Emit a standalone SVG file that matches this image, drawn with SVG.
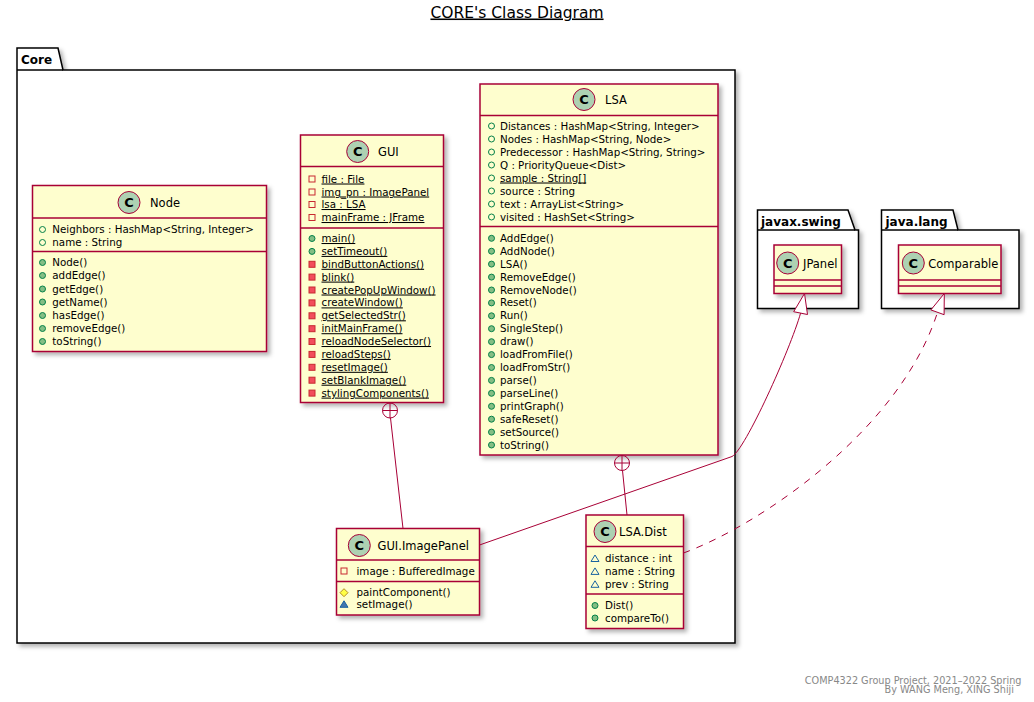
<svg xmlns="http://www.w3.org/2000/svg" xmlns:xlink="http://www.w3.org/1999/xlink" width="1034" height="702" viewBox="0 0 1034 702">
<style>
.cls{fill:#FEFECE;stroke:#A80036;stroke-width:1.5}
.sep{stroke:#A80036;stroke-width:1.5}
.t{font-family:"DejaVu Sans",Verdana,sans-serif;font-size:10.3px;fill:#000}
.n{font-family:"DejaVu Sans",Verdana,sans-serif;font-size:11.5px;fill:#000}
.ci{fill:#ADD1B2;stroke:#A80036;stroke-width:1}
.cl{font-family:"DejaVu Sans",Verdana,sans-serif;font-weight:bold;font-size:13px;fill:#000;text-anchor:middle}
.pkg{fill:#FFFFFF;stroke:#000;stroke-width:1.5}
.pl{fill:none;stroke:#000;stroke-width:1.5}
.pt{font-family:"DejaVu Sans",Verdana,sans-serif;font-weight:bold;font-size:12px;fill:#000}
.u{text-decoration:underline}
.link{fill:none;stroke:#A80036;stroke-width:1}
.ft{font-family:"DejaVu Sans",Verdana,sans-serif;font-size:9.7px;fill:#888888;text-anchor:end}
</style>
<defs>
<filter id="sh" x="-10%" y="-10%" width="130%" height="130%"><feDropShadow dx="3" dy="3" stdDeviation="2" flood-color="#000" flood-opacity="0.3"/></filter>
<g id="pubF"><circle r="3" fill="none" stroke="#038048" stroke-width="1"/></g>
<g id="pubM"><circle r="3" fill="#84BE84" stroke="#038048" stroke-width="1"/></g>
<g id="privF"><rect x="-3" y="-3" width="6" height="6" fill="none" stroke="#C82930" stroke-width="1"/></g>
<g id="privM"><rect x="-3" y="-3" width="6" height="6" fill="#F24D5C" stroke="#C82930" stroke-width="1"/></g>
<g id="protM"><polygon points="0,-4 4,0 0,4 -4,0" fill="#FFFF44" stroke="#B38D22" stroke-width="1"/></g>
<g id="pkgM"><polygon points="0,-3.5 4,3 -4,3" fill="#4177AF" stroke="#1963A0" stroke-width="1"/></g>
<g id="pkgF"><polygon points="0,-3.5 4,3 -4,3" fill="none" stroke="#1963A0" stroke-width="1"/></g>
</defs>

<text x="517" y="17.5" font-family="DejaVu Sans, Verdana, sans-serif" font-size="15.5" text-anchor="middle" text-decoration="underline" fill="#000">CORE's Class Diagram</text>

<g id="pkg-core">
<path class="pkg" filter="url(#sh)" d="M17,48 H58 L63,70 H735 V643 H17 Z"/>
<line class="pl" x1="17" y1="70" x2="63" y2="70"/>
<text class="pt" x="21" y="64">Core</text>
</g>
<g id="pkg-javax-swing">
<path class="pkg" filter="url(#sh)" d="M757.5,210 H848 L855,230 H858.5 V308.5 H757.5 Z"/>
<line class="pl" x1="757.5" y1="230" x2="855" y2="230"/>
<text class="pt" x="761" y="225.5">javax.swing</text>
</g>
<g id="pkg-java-lang">
<path class="pkg" filter="url(#sh)" d="M881.5,210 H953 L958,230 H1019 V308.5 H881.5 Z"/>
<line class="pl" x1="881.5" y1="230" x2="958" y2="230"/>
<text class="pt" x="885.5" y="225.5">java.lang</text>
</g>

<g id="Node">
<rect class="cls" filter="url(#sh)" x="32.5" y="185.5" width="234" height="166"/>
<line class="sep" x1="32.5" y1="218" x2="266.5" y2="218"/>
<line class="sep" x1="32.5" y1="251.5" x2="266.5" y2="251.5"/>
<circle class="ci" cx="129" cy="202.5" r="11"/><text class="cl" x="129" y="207.2">C</text>
<text class="n" x="150" y="207">Node</text>
<use href="#pubF" x="42.5" y="229.5"/><text class="t" x="52.3" y="233">Neighbors : HashMap&lt;String, Integer&gt;</text>
<use href="#pubF" x="42.5" y="242.5"/><text class="t" x="52.3" y="246">name : String</text>
<use href="#pubM" x="42.5" y="262.5"/><text class="t" x="52.3" y="266">Node()</text>
<use href="#pubM" x="42.5" y="275.5"/><text class="t" x="52.3" y="279">addEdge()</text>
<use href="#pubM" x="42.5" y="289"/><text class="t" x="52.3" y="292.5">getEdge()</text>
<use href="#pubM" x="42.5" y="302"/><text class="t" x="52.3" y="305.5">getName()</text>
<use href="#pubM" x="42.5" y="315.5"/><text class="t" x="52.3" y="319">hasEdge()</text>
<use href="#pubM" x="42.5" y="328.5"/><text class="t" x="52.3" y="332">removeEdge()</text>
<use href="#pubM" x="42.5" y="341.5"/><text class="t" x="52.3" y="345">toString()</text>
</g>

<g id="GUI">
<rect class="cls" filter="url(#sh)" x="300.5" y="135" width="143" height="267.5"/>
<line class="sep" x1="300.5" y1="166.5" x2="443.5" y2="166.5"/>
<line class="sep" x1="300.5" y1="228" x2="443.5" y2="228"/>
<circle class="ci" cx="357.7" cy="151.5" r="11"/><text class="cl" x="357.7" y="156.2">C</text>
<text class="n" x="378" y="156">GUI</text>
<use href="#privF" x="312" y="179"/><text class="t u" x="321.5" y="182.5">file : File</text>
<use href="#privF" x="312" y="192"/><text class="t u" x="321.5" y="195.5">img_pn : ImagePanel</text>
<use href="#privF" x="312" y="204.5"/><text class="t u" x="321.5" y="208">lsa : LSA</text>
<use href="#privF" x="312" y="217.5"/><text class="t u" x="321.5" y="221">mainFrame : JFrame</text>
<use href="#pubM" x="312" y="238.5"/><text class="t u" x="321.5" y="242">main()</text>
<use href="#pubM" x="312" y="251.4"/><text class="t u" x="321.5" y="254.9">setTimeout()</text>
<use href="#privM" x="312" y="264.3"/><text class="t u" x="321.5" y="267.8">bindButtonActions()</text>
<use href="#privM" x="312" y="277.1"/><text class="t u" x="321.5" y="280.6">blink()</text>
<use href="#privM" x="312" y="290"/><text class="t u" x="321.5" y="293.5">createPopUpWindow()</text>
<use href="#privM" x="312" y="302.9"/><text class="t u" x="321.5" y="306.4">createWindow()</text>
<use href="#privM" x="312" y="315.8"/><text class="t u" x="321.5" y="319.3">getSelectedStr()</text>
<use href="#privM" x="312" y="328.7"/><text class="t u" x="321.5" y="332.2">initMainFrame()</text>
<use href="#privM" x="312" y="341.5"/><text class="t u" x="321.5" y="345">reloadNodeSelector()</text>
<use href="#privM" x="312" y="354.4"/><text class="t u" x="321.5" y="357.9">reloadSteps()</text>
<use href="#privM" x="312" y="367.3"/><text class="t u" x="321.5" y="370.8">resetImage()</text>
<use href="#privM" x="312" y="380.2"/><text class="t u" x="321.5" y="383.7">setBlankImage()</text>
<use href="#privM" x="312" y="393.1"/><text class="t u" x="321.5" y="396.6">stylingComponents()</text>
</g>

<g id="LSA">
<rect class="cls" filter="url(#sh)" x="480" y="84" width="238" height="371"/>
<line class="sep" x1="480" y1="115.5" x2="718" y2="115.5"/>
<line class="sep" x1="480" y1="226.5" x2="718" y2="226.5"/>
<circle class="ci" cx="584" cy="99.5" r="11"/><text class="cl" x="584" y="104.2">C</text>
<text class="n" x="605" y="104">LSA</text>
<use href="#pubF" x="491.5" y="126"/><text class="t" x="500" y="129.5">Distances : HashMap&lt;String, Integer&gt;</text>
<use href="#pubF" x="491.5" y="139"/><text class="t" x="500" y="142.5">Nodes : HashMap&lt;String, Node&gt;</text>
<use href="#pubF" x="491.5" y="152"/><text class="t" x="500" y="155.5">Predecessor : HashMap&lt;String, String&gt;</text>
<use href="#pubF" x="491.5" y="165"/><text class="t" x="500" y="168.5">Q : PriorityQueue&lt;Dist&gt;</text>
<use href="#pubF" x="491.5" y="178"/><text class="t u" x="500" y="181.5">sample : String[]</text>
<use href="#pubF" x="491.5" y="191"/><text class="t" x="500" y="194.5">source : String</text>
<use href="#pubF" x="491.5" y="204"/><text class="t" x="500" y="207.5">text : ArrayList&lt;String&gt;</text>
<use href="#pubF" x="491.5" y="217"/><text class="t" x="500" y="220.5">visited : HashSet&lt;String&gt;</text>
<use href="#pubM" x="491.5" y="238.3"/><text class="t" x="500" y="241.8">AddEdge()</text>
<use href="#pubM" x="491.5" y="251.2"/><text class="t" x="500" y="254.7">AddNode()</text>
<use href="#pubM" x="491.5" y="264.1"/><text class="t" x="500" y="267.6">LSA()</text>
<use href="#pubM" x="491.5" y="277.1"/><text class="t" x="500" y="280.6">RemoveEdge()</text>
<use href="#pubM" x="491.5" y="290"/><text class="t" x="500" y="293.5">RemoveNode()</text>
<use href="#pubM" x="491.5" y="302.9"/><text class="t" x="500" y="306.4">Reset()</text>
<use href="#pubM" x="491.5" y="315.8"/><text class="t" x="500" y="319.3">Run()</text>
<use href="#pubM" x="491.5" y="328.7"/><text class="t" x="500" y="332.2">SingleStep()</text>
<use href="#pubM" x="491.5" y="341.7"/><text class="t" x="500" y="345.2">draw()</text>
<use href="#pubM" x="491.5" y="354.6"/><text class="t" x="500" y="358.1">loadFromFile()</text>
<use href="#pubM" x="491.5" y="367.5"/><text class="t" x="500" y="371">loadFromStr()</text>
<use href="#pubM" x="491.5" y="380.4"/><text class="t" x="500" y="383.9">parse()</text>
<use href="#pubM" x="491.5" y="393.3"/><text class="t" x="500" y="396.8">parseLine()</text>
<use href="#pubM" x="491.5" y="406.3"/><text class="t" x="500" y="409.8">printGraph()</text>
<use href="#pubM" x="491.5" y="419.2"/><text class="t" x="500" y="422.7">safeReset()</text>
<use href="#pubM" x="491.5" y="432.1"/><text class="t" x="500" y="435.6">setSource()</text>
<use href="#pubM" x="491.5" y="445"/><text class="t" x="500" y="448.5">toString()</text>
</g>

<g id="GUI.ImagePanel">
<rect class="cls" filter="url(#sh)" x="336.5" y="528.5" width="143" height="86.5"/>
<line class="sep" x1="336.5" y1="560" x2="479.5" y2="560"/>
<line class="sep" x1="336.5" y1="581.5" x2="479.5" y2="581.5"/>
<circle class="ci" cx="359.3" cy="545.5" r="11"/><text class="cl" x="359.3" y="550.2">C</text>
<text class="n" x="377.5" y="550">GUI.ImagePanel</text>
<use href="#privF" x="344" y="571"/><text class="t" x="356.5" y="574.5">image : BufferedImage</text>
<use href="#protM" x="344" y="592.7"/><text class="t" x="356.5" y="596.2">paintComponent()</text>
<use href="#pkgM" x="344" y="604.3"/><text class="t" x="356.5" y="607.8">setImage()</text>
</g>

<g id="LSA.Dist">
<rect class="cls" filter="url(#sh)" x="586" y="515" width="97.5" height="113.5"/>
<line class="sep" x1="586" y1="546.5" x2="683.5" y2="546.5"/>
<line class="sep" x1="586" y1="594" x2="683.5" y2="594"/>
<circle class="ci" cx="605" cy="531.5" r="11"/><text class="cl" x="605" y="536.2">C</text>
<text class="n" x="619" y="536">LSA.Dist</text>
<use href="#pkgF" x="595" y="558.5"/><text class="t" x="605" y="562">distance : int</text>
<use href="#pkgF" x="595" y="571.4"/><text class="t" x="605" y="574.9">name : String</text>
<use href="#pkgF" x="595" y="584.3"/><text class="t" x="605" y="587.8">prev : String</text>
<use href="#pubM" x="595" y="605.5"/><text class="t" x="605" y="609">Dist()</text>
<use href="#pubM" x="595" y="618"/><text class="t" x="605" y="621.5">compareTo()</text>
</g>

<g id="JPanel">
<rect class="cls" filter="url(#sh)" x="774" y="245" width="67.5" height="48.5"/>
<line class="sep" x1="774" y1="280" x2="841.5" y2="280"/>
<line class="sep" x1="774" y1="286" x2="841.5" y2="286"/>
<circle class="ci" cx="787.7" cy="263" r="11"/><text class="cl" x="787.7" y="267.7">C</text>
<text class="n" x="803" y="267.5">JPanel</text>
</g>

<g id="Comparable">
<rect class="cls" filter="url(#sh)" x="898.5" y="245" width="102.5" height="48.5"/>
<line class="sep" x1="898.5" y1="280" x2="1001" y2="280"/>
<line class="sep" x1="898.5" y1="286" x2="1001" y2="286"/>
<circle class="ci" cx="913.3" cy="263" r="11"/><text class="cl" x="913.3" y="267.7">C</text>
<text class="n" x="928.3" y="267.5">Comparable</text>
</g>

<g id="connectors">
<circle class="link" cx="390" cy="410.5" r="7.5" fill="#FFFFFF"/>
<line class="link" x1="382.5" y1="410.5" x2="397.5" y2="410.5"/>
<line class="link" x1="390" y1="403" x2="390" y2="418"/>
<line class="link" x1="390.5" y1="418" x2="403" y2="528.5"/>

<circle class="link" cx="622" cy="463" r="7.5" fill="#FFFFFF"/>
<line class="link" x1="614.5" y1="463" x2="629.5" y2="463"/>
<line class="link" x1="622" y1="455.5" x2="622" y2="470.5"/>
<line class="link" x1="622.5" y1="470.5" x2="627" y2="515"/>

<path class="link" d="M479.5,545 L732,456.5 C745,450 790,350 800.6,313.1"/>
<polygon points="804.5,293.5 807.5,314.5 793.7,311.7" fill="#FFFFFF" stroke="#A80036" stroke-width="1"/>

<path class="link" stroke-dasharray="7,7" d="M683.5,553 C760,525 900,430 937.5,312.3"/>
<polygon points="944.3,293.5 944.1,314.7 930.9,309.9" fill="#FFFFFF" stroke="#A80036" stroke-width="1"/>
</g>

<text class="ft" x="1021.5" y="683.5">COMP4322 Group Project, 2021–2022 Spring</text>
<text class="ft" x="1014" y="692.5">By WANG Meng, XING Shiji</text>
</svg>
